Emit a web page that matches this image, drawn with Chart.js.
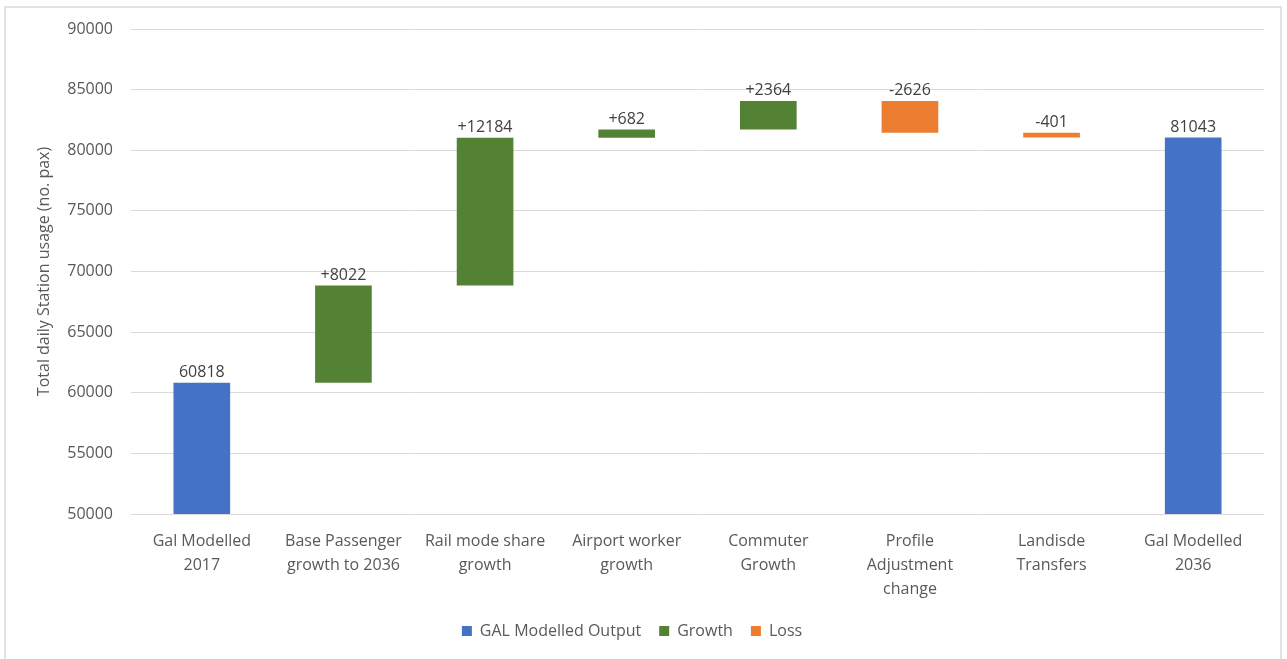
<!DOCTYPE html>
<html>
<head>
<meta charset="utf-8">
<title>Station usage waterfall</title>
<script src="https://cdn.jsdelivr.net/npm/chart.js@4.4.1/dist/chart.umd.min.js"></script>
<style>
  html, body { margin: 0; padding: 0; background: #fff; overflow: hidden; }
  #frame {
    position: absolute; left: 4px; top: 6px; width: 1278px; height: 700px;
    border: 2px solid #e3e3e3; box-sizing: border-box;
  }
  #wrap { position: absolute; left: 0; top: 0; width: 1287px; height: 659px; }
</style>
</head>
<body>
<div id="frame"></div>
<div id="wrap"><canvas id="waterfall" width="1287" height="659"></canvas></div>
<script>
// categories along the x axis (multi-line labels)
let categories = [
  ['Gal Modelled', '2017'],
  ['Base Passenger', 'growth to 2036'],
  ['Rail mode share', 'growth'],
  ['Airport worker', 'growth'],
  ['Commuter', 'Growth'],
  ['Profile', 'Adjustment', 'change'],
  ['Landisde', 'Transfers'],
  ['Gal Modelled', '2036']
]

// modelled totals and the steps in between
let startValue = 60818
let changes = [8022, 12184, 682, 2364, -2626, -401]
let endValue = 81043

// y axis ticks
let yTicks = [50000, 55000, 60000, 65000, 70000, 75000, 80000, 85000, 90000]

let blue = '#4472C4'
let green = '#548235'
let orange = '#ED7D31'
let textGrey = '#595959'
let fontFamily = '"Open Sans", "Liberation Sans", sans-serif'

// build the floating bars for the waterfall
let outputData = categories.map(() => null)
let growthData = categories.map(() => null)
let lossData = categories.map(() => null)
let valueLabels = []

outputData[0] = startValue
valueLabels[0] = String(startValue)
let running = startValue
changes.forEach((c, i) => {
  let next = running + c
  if (c >= 0) {
    growthData[i + 1] = [running, next]
    valueLabels[i + 1] = '+' + c
  } else {
    lossData[i + 1] = [next, running]
    valueLabels[i + 1] = String(c)
  }
  running = next
})
outputData[categories.length - 1] = endValue
valueLabels[categories.length - 1] = String(endValue)

// writes the value above each bar
let valueLabelPlugin = {
  id: 'valueLabels',
  afterDatasetsDraw(chart) {
    let ctx = chart.ctx
    ctx.save()
    ctx.font = '16px ' + fontFamily
    ctx.fillStyle = '#404040'
    ctx.textAlign = 'center'
    ctx.textBaseline = 'bottom'
    chart.data.datasets.forEach((ds, d) => {
      let meta = chart.getDatasetMeta(d)
      meta.data.forEach((bar, i) => {
        if (ds.data[i] == null) return
        let top = Math.min(bar.y, bar.base)
        ctx.fillText(valueLabels[i], bar.x, top - 2)
      })
    })
    ctx.restore()
  }
}

let barOpts = { grouped: false, barPercentage: 0.4, categoryPercentage: 1.0 }

let chart = new Chart(document.querySelector('#waterfall'), {
  type: 'bar',
  data: {
    labels: categories,
    datasets: [
      Object.assign({ label: 'GAL Modelled Output', data: outputData, backgroundColor: blue }, barOpts),
      Object.assign({ label: 'Growth', data: growthData, backgroundColor: green }, barOpts),
      Object.assign({ label: 'Loss', data: lossData, backgroundColor: orange }, barOpts)
    ]
  },
  options: {
    responsive: false,
    animation: false,
    layout: { padding: { top: 29, right: 23, bottom: 10, left: 0 } },
    plugins: {
      tooltip: { enabled: false },
      legend: {
        position: 'bottom',
        labels: {
          boxWidth: 10, boxHeight: 10, padding: 18,
          color: textGrey,
          font: { family: fontFamily, size: 16 }
        }
      }
    },
    scales: {
      x: {
        grid: { display: false },
        border: { display: false },
        ticks: {
          color: textGrey, padding: 7, maxRotation: 0, autoSkip: false,
          font: { family: fontFamily, size: 16, lineHeight: 1.5 }
        },
        afterFit(scale) { scale.height = 91 }
      },
      y: {
        min: yTicks[0],
        max: yTicks[yTicks.length - 1],
        grid: { color: '#d9d9d9', lineWidth: 1, drawTicks: false },
        border: { display: false },
        afterBuildTicks(scale) { scale.ticks = yTicks.map(v => ({ value: v })) },
        ticks: {
          color: textGrey, padding: 18,
          font: { family: fontFamily, size: 16 },
          callback: v => String(v)
        },
        title: {
          display: true,
          text: 'Total daily Station usage (no. pax)',
          color: textGrey,
          font: { family: fontFamily, size: 16 },
          padding: { top: 35, bottom: 0 }
        },
        afterFit(scale) { scale.width = 131 }
      }
    }
  },
  plugins: [valueLabelPlugin]
})
</script>
</body>
</html>
